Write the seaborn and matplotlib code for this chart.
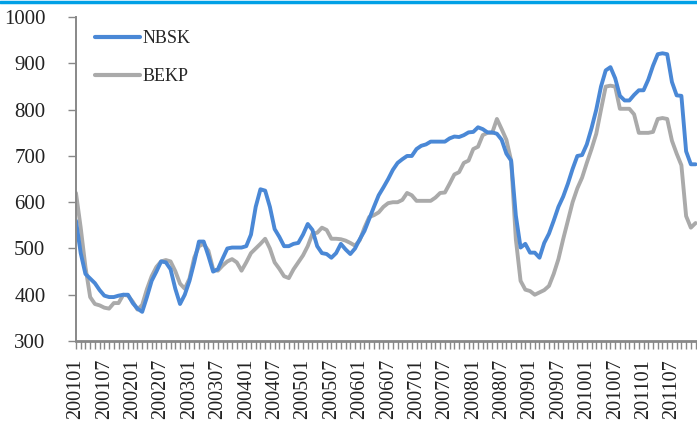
import matplotlib
matplotlib.use("Agg")
import matplotlib.pyplot as plt
from matplotlib.lines import Line2D
import numpy as np
import pandas as pd
import seaborn as sns

# monthly prices, 200101 .. 201112
months = [f"{y}{m:02d}" for y in range(2001, 2012) for m in range(1, 13)]

nbsk = [
    560, 490, 445, 435, 425, 410, 398, 395, 395, 398, 400, 400,   # 2001
    382, 370, 363, 395, 430, 450, 472, 470, 455, 413, 380, 400,   # 2002
    430, 470, 515, 515, 484, 450, 455, 478, 500, 502, 502, 502,   # 2003
    505, 530, 590, 628, 625, 590, 542, 525, 505, 505, 510, 512,   # 2004
    530, 553, 540, 505, 490, 488, 480, 490, 510, 498, 488, 500,   # 2005
    520, 538, 564, 590, 615, 632, 650, 670, 685, 693, 700, 700,   # 2006
    715, 722, 725, 731, 731, 731, 731, 738, 742, 741, 745, 751,   # 2007
    752, 762, 758, 751, 751, 748, 735, 705, 690, 571, 502, 510,   # 2008
    491, 491, 480, 512, 532, 560, 590, 612, 640, 672, 700, 702,   # 2009
    725, 760, 800, 850, 885, 892, 868, 830, 820, 820, 832, 842,   # 2010
    842, 865, 895, 920, 922, 920, 860, 831, 830, 710, 682, 682,   # 2011
]

bekp = [
    620, 545, 460, 395, 380, 377, 372, 370, 382, 382, 400, 398,   # 2001
    385, 368, 378, 412, 440, 460, 472, 475, 472, 451, 424, 413,   # 2002
    435, 480, 505, 510, 495, 455, 452, 463, 472, 477, 470, 452,   # 2003
    470, 490, 500, 510, 521, 500, 470, 456, 440, 436, 455, 470,   # 2004
    485, 505, 532, 534, 545, 540, 521, 521, 520, 517, 512, 506,   # 2005
    518, 545, 568, 572, 578, 590, 598, 600, 600, 605, 620, 615,   # 2006
    603, 603, 603, 603, 610, 620, 621, 640, 660, 665, 685, 690,   # 2007
    715, 720, 745, 750, 750, 780, 758, 735, 690, 520, 430, 411,   # 2008
    408, 400, 405, 410, 419, 445, 477, 520, 560, 600, 630, 653,   # 2009
    685, 715, 748, 800, 850, 852, 850, 802, 802, 802, 790, 750,   # 2010
    750, 750, 752, 780, 782, 780, 733, 705, 680, 570, 545, 555,   # 2011
]

df = pd.DataFrame({"idx": np.arange(len(months)), "NBSK": nbsk, "BEKP": bekp})
long = df.melt(id_vars="idx", var_name="series", value_name="price")

blue = "#4A88D6"
grey = "#AAAAAA"

sns.set_style("white")
plt.rcParams["font.family"] = ["Liberation Serif", "DejaVu Serif"]

fig = plt.figure(figsize=(6.97, 4.30), dpi=100)
ax = fig.add_axes([0.109, 0.207, 0.891, 0.753])

sns.lineplot(data=long, x="idx", y="price", hue="series",
             palette={"NBSK": blue, "BEKP": grey}, hue_order=["BEKP", "NBSK"],
             linewidth=2.8, ax=ax, legend=False)

ax.set_xlim(0, 131.3)
ax.set_ylim(300, 1000)
ax.set_yticks(range(300, 1001, 100))
ax.set_xticks(np.arange(0, len(months), 6))
ax.set_xticklabels(months[::6], rotation=90)
ax.set_xticks(np.arange(len(months)), minor=True)
ax.set_xlabel("")
ax.set_ylabel("")

for s in ["top", "right"]:
    ax.spines[s].set_visible(False)
ax.spines["left"].set_color("#888888")
ax.spines["left"].set_linewidth(1.4)
ax.spines["bottom"].set_color("#888888")
ax.spines["bottom"].set_linewidth(2.0)

ax.tick_params(axis="y", which="major", direction="out", length=6, width=1,
               color="#888888", labelsize=15, labelcolor="#222222", left=True, pad=16)
ax.tick_params(axis="x", which="both", direction="out", length=6, width=1,
               color="#888888", bottom=True)
ax.tick_params(axis="x", which="major", labelsize=14.5, labelcolor="#222222", pad=7)

handles = [Line2D([], [], color=blue, lw=3.0), Line2D([], [], color=grey, lw=3.0)]
ax.legend(handles, ["NBSK", "BEKP"], loc="upper left", bbox_to_anchor=(0.03, 0.96),
          frameon=False, fontsize=13, handlelength=2.5, handletextpad=0.15,
          labelspacing=1.15, borderpad=0, borderaxespad=0)

# decorative rule along the top edge
fig.add_artist(Line2D([0, 1], [0.995, 0.995], transform=fig.transFigure,
                      color="#00A0E6", lw=2.5))

fig.savefig("out.png", dpi=100)
